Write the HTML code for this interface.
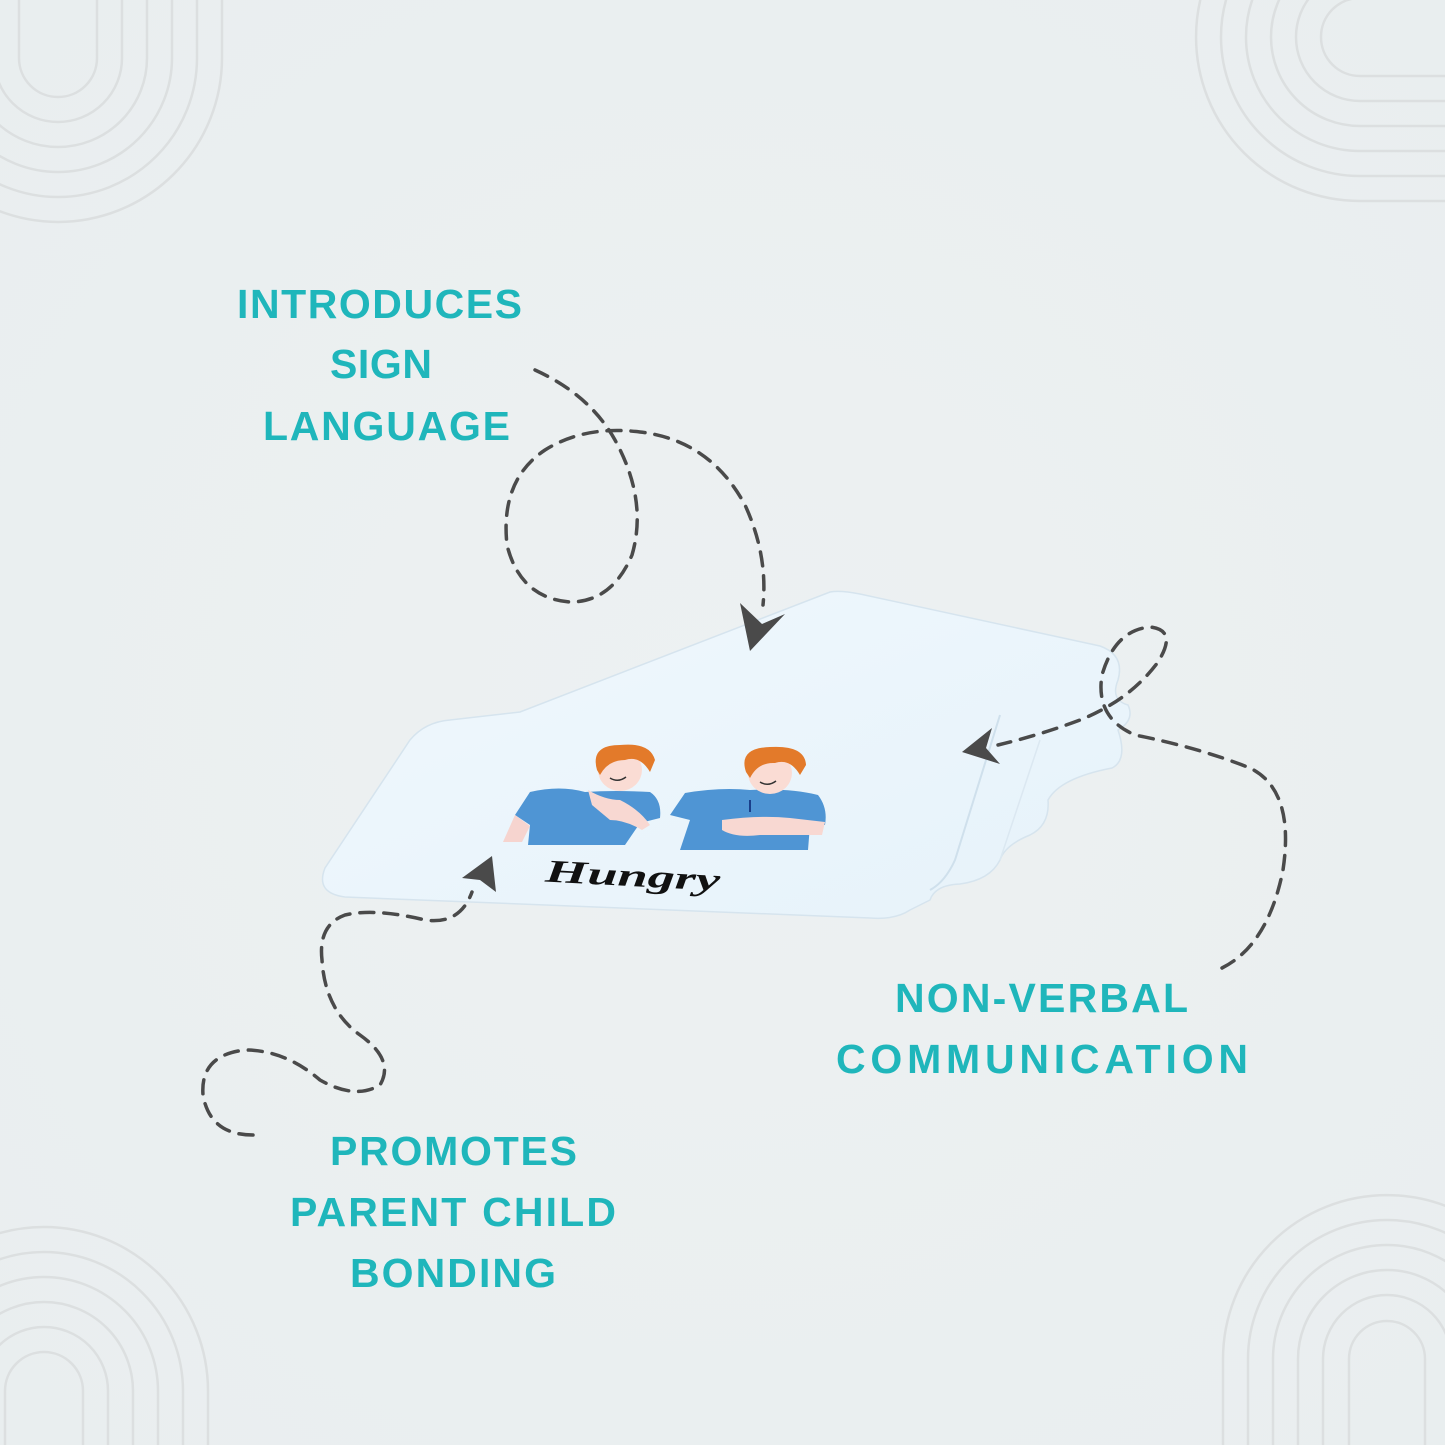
<!DOCTYPE html>
<html><head><meta charset="utf-8"><style>
html,body{margin:0;padding:0;}
body{width:1445px;height:1445px;background:#ebf0f1;position:relative;overflow:hidden;font-family:"Liberation Sans",sans-serif;}
svg{position:absolute;left:0;top:0;}
</style></head><body>
<svg width="1445" height="1445" viewBox="0 0 1445 1445">
<defs>
<radialGradient id="bg" cx="50%" cy="50%" r="70%"><stop offset="0" stop-color="#edf1f2"/><stop offset="1" stop-color="#e9eeef"/></radialGradient>
<linearGradient id="card" x1="0" y1="0" x2="1" y2="1"><stop offset="0" stop-color="#f0f8fd"/><stop offset="1" stop-color="#e6f2fa"/></linearGradient>
</defs>
<rect width="1445" height="1445" fill="url(#bg)"/>
<g fill="none" stroke="#dcdfe0" stroke-width="2.5">
 <path d="M19 0V58A39 39 0 0 0 97 58V0"/>
 <path d="M-6 0V58A64 64 0 0 0 122 58V0"/>
 <path d="M-31 0V58A89 89 0 0 0 147 58V0"/>
 <path d="M-56 0V58A114 114 0 0 0 172 58V0"/>
 <path d="M-81 0V58A139 139 0 0 0 197 58V0"/>
 <path d="M-106 0V58A164 164 0 0 0 222 58V0"/>
 <path d="M1445 -2H1360A39 39 0 0 0 1360 76H1445"/>
 <path d="M1445 -27H1360A64 64 0 0 0 1360 101H1445"/>
 <path d="M1445 -52H1360A89 89 0 0 0 1360 126H1445"/>
 <path d="M1445 -77H1360A114 114 0 0 0 1360 151H1445"/>
 <path d="M1445 -102H1360A139 139 0 0 0 1360 176H1445"/>
 <path d="M1445 -127H1360A164 164 0 0 0 1360 201H1445"/>
 <path d="M1349 1445V1359A38 38 0 0 1 1425 1359V1445"/>
 <path d="M1323 1445V1359A64 64 0 0 1 1451 1359V1445"/>
 <path d="M1298 1445V1359A89 89 0 0 1 1476 1359V1445"/>
 <path d="M1273 1445V1359A114 114 0 0 1 1501 1359V1445"/>
 <path d="M1248 1445V1359A139 139 0 0 1 1526 1359V1445"/>
 <path d="M1223 1445V1359A164 164 0 0 1 1551 1359V1445"/>
 <path d="M5 1445V1391A39 39 0 0 1 83 1391V1445"/>
 <path d="M-20 1445V1391A64 64 0 0 1 108 1391V1445"/>
 <path d="M-45 1445V1391A89 89 0 0 1 133 1391V1445"/>
 <path d="M-70 1445V1391A114 114 0 0 1 158 1391V1445"/>
 <path d="M-95 1445V1391A139 139 0 0 1 183 1391V1445"/>
 <path d="M-120 1445V1391A164 164 0 0 1 208 1391V1445"/>
</g>
<path d="M830 592 Q840 590 860 594 L1100 646 Q1125 655 1118 680 Q1110 700 1128 705 Q1135 720 1118 730 Q1128 760 1112 768 Q1060 778 1048 800 Q1050 825 1030 835 Q1005 845 1000 860 Q990 880 960 884 Q935 885 930 900 L910 910 Q895 920 870 918 L345 897 Q315 893 325 868 L410 740 Q425 722 450 720 L520 712 Z" fill="url(#card)" stroke="#d6e4ee" stroke-width="1.5"/>
<path d="M1000 715 L955 860 Q945 882 930 890" fill="none" stroke="#cfe0ec" stroke-width="2"/>
<path d="M1040 740 L1000 860" fill="none" stroke="#dbe8f1" stroke-width="1.5"/>
<path d="M515 815 L530 792 Q560 785 585 792 Q615 790 650 792 Q662 800 660 818 L640 823 L625 845 L528 845 L530 825 Z" fill="#4f95d4"/>
<path d="M503 842 L515 815 L530 826 L522 842 Z" fill="#f6d4cf"/>
<path d="M588 790 Q605 800 620 800 Q640 810 650 825 L642 830 Q625 820 610 820 L592 805 Z" fill="#f8d8d2"/>
<ellipse cx="620" cy="770" rx="22" ry="21" fill="#fadcd4"/>
<path d="M597 770 Q590 745 620 745 Q650 742 655 760 L650 772 Q640 755 625 760 Q608 760 600 775 Z" fill="#e37a2a"/>
<path d="M610 778 Q618 783 626 777" fill="none" stroke="#333" stroke-width="1.5"/>
<path d="M670 815 L685 793 Q720 787 750 790 Q790 788 818 795 Q828 808 825 825 L810 825 L808 850 L680 850 L690 820 Z" fill="#4f95d4"/>
<path d="M722 820 Q760 815 790 818 L825 822 L822 835 L760 835 Q735 838 722 830 Z" fill="#f8d8d2"/>
<ellipse cx="770" cy="773" rx="22" ry="21" fill="#fadcd4"/>
<path d="M746 772 Q738 748 770 747 Q805 745 806 765 L800 775 Q790 758 775 763 Q758 762 750 778 Z" fill="#e37a2a"/>
<path d="M760 782 Q768 787 776 781" fill="none" stroke="#333" stroke-width="1.5"/>
<path d="M750 800 V812" stroke="#1a3f8a" stroke-width="2"/>
<text x="545" y="886" font-family="'Liberation Serif',serif" font-weight="bold" font-style="italic" font-size="32" fill="#111" transform="rotate(3 630 880)" textLength="175" lengthAdjust="spacingAndGlyphs">Hungry</text>
<g fill="none" stroke="#4a4a4a" stroke-width="3.5" stroke-dasharray="14 10" stroke-linecap="round">
 <path d="M535 370 Q590 395 615 440 Q648 500 632 555 Q612 602 570 602 Q520 598 507 545 Q500 480 545 450 Q585 425 640 432 Q710 440 745 505 Q768 555 763 605"/>
 <path d="M1222 968 Q1268 945 1283 870 Q1295 790 1250 768 Q1200 748 1135 735 Q1095 718 1102 675 Q1115 630 1150 627 Q1178 630 1158 662 Q1130 700 1080 720 Q1040 735 998 745"/>
 <path d="M253 1135 Q210 1135 203 1095 Q200 1055 245 1050 Q285 1050 320 1080 Q355 1100 380 1085 Q395 1060 360 1035 Q325 1010 322 960 Q318 925 345 915 Q375 908 425 920 Q460 925 472 892"/>
</g>
<g fill="#4a4a4a">
 <polygon points="740,603 762,624 785,614 750,651"/>
 <polygon points="962,752 992,728 986,748 1000,764"/>
 <polygon points="462,878 492,856 496,892 480,880"/>
</g>
<g font-family="'Liberation Sans',sans-serif" font-weight="bold" font-size="41" fill="#1fb6bb" lengthAdjust="spacingAndGlyphs">
 <text x="237" y="318" textLength="285">INTRODUCES</text>
 <text x="330" y="378" textLength="102">SIGN</text>
 <text x="263" y="440" textLength="247">LANGUAGE</text>
 <text x="895" y="1012" textLength="293">NON-VERBAL</text>
 <text x="836" y="1073" textLength="412">COMMUNICATION</text>
 <text x="330" y="1165" textLength="247">PROMOTES</text>
 <text x="290" y="1226" textLength="326">PARENT CHILD</text>
 <text x="350" y="1287" textLength="206">BONDING</text>
</g>
</svg>
</body></html>
